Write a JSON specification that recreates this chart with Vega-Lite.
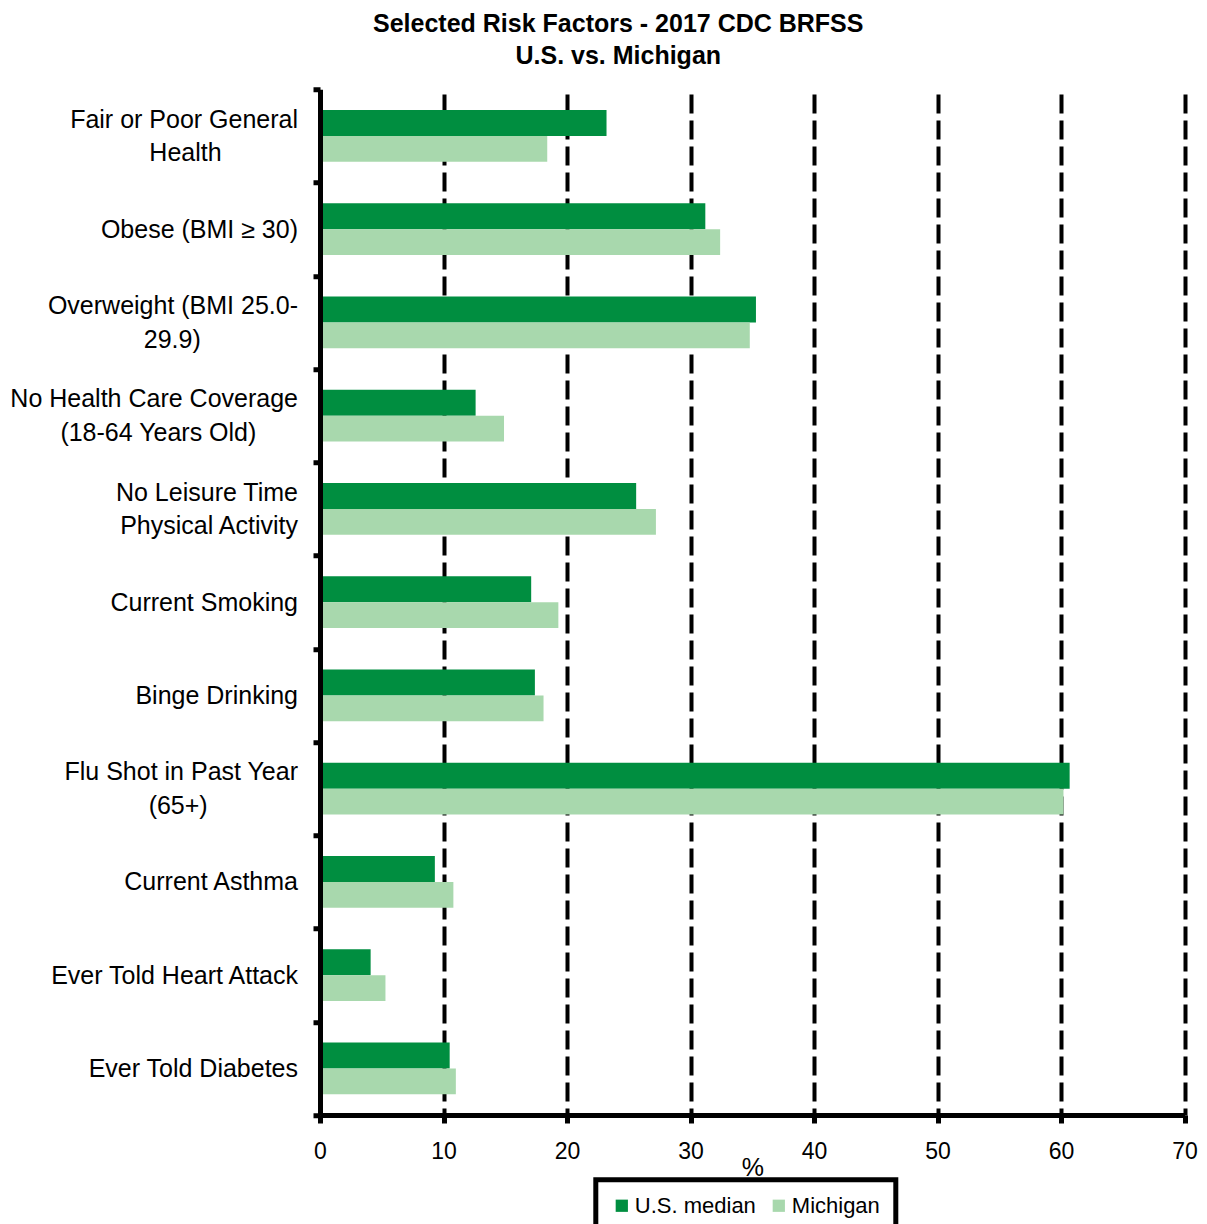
{
  "$schema": "https://vega.github.io/schema/vega-lite/v6.json",
  "width": 864.5,
  "height": 1025.75,
  "autosize": {"type": "none"},
  "padding": {"left": 320, "top": 89.25, "right": 22.5, "bottom": 109},
  "background": "white",
  "title": {
    "text": ["Selected Risk Factors - 2017 CDC BRFSS", "U.S. vs. Michigan"],
    "font": "Liberation Sans",
    "fontSize": 25,
    "fontWeight": "bold",
    "color": "black",
    "lineHeight": 32.6,
    "anchor": "middle",
    "frame": "group",
    "dx": -134,
    "offset": 8
  },
  "data": {
    "values": [
      {"factor": "Fair or Poor General\nHealth\u00a0\u00a0\u00a0\u00a0\u00a0\u00a0\u00a0\u00a0\u00a0\u00a0\u00a0\u200c", "series": "U.S. median", "percent": 23.2},
      {"factor": "Fair or Poor General\nHealth\u00a0\u00a0\u00a0\u00a0\u00a0\u00a0\u00a0\u00a0\u00a0\u00a0\u00a0\u200c", "series": "Michigan", "percent": 18.4},
      {"factor": "Obese (BMI \u2265 30)", "series": "U.S. median", "percent": 31.2},
      {"factor": "Obese (BMI \u2265 30)", "series": "Michigan", "percent": 32.4},
      {"factor": "Overweight (BMI 25.0-\n29.9)\u00a0\u00a0\u00a0\u00a0\u00a0\u00a0\u00a0\u00a0\u00a0\u00a0\u00a0\u00a0\u00a0\u00a0\u200c", "series": "U.S. median", "percent": 35.3},
      {"factor": "Overweight (BMI 25.0-\n29.9)\u00a0\u00a0\u00a0\u00a0\u00a0\u00a0\u00a0\u00a0\u00a0\u00a0\u00a0\u00a0\u00a0\u00a0\u200c", "series": "Michigan", "percent": 34.8},
      {"factor": "No Health Care Coverage\n(18-64 Years Old)\u00a0\u00a0\u00a0\u00a0\u00a0\u00a0\u200c", "series": "U.S. median", "percent": 12.6},
      {"factor": "No Health Care Coverage\n(18-64 Years Old)\u00a0\u00a0\u00a0\u00a0\u00a0\u00a0\u200c", "series": "Michigan", "percent": 14.9},
      {"factor": "No Leisure Time\nPhysical Activity", "series": "U.S. median", "percent": 25.6},
      {"factor": "No Leisure Time\nPhysical Activity", "series": "Michigan", "percent": 27.2},
      {"factor": "Current Smoking", "series": "U.S. median", "percent": 17.1},
      {"factor": "Current Smoking", "series": "Michigan", "percent": 19.3},
      {"factor": "Binge Drinking", "series": "U.S. median", "percent": 17.4},
      {"factor": "Binge Drinking", "series": "Michigan", "percent": 18.1},
      {"factor": "Flu Shot in Past Year\n(65+)\u00a0\u00a0\u00a0\u00a0\u00a0\u00a0\u00a0\u00a0\u00a0\u00a0\u00a0\u00a0\u00a0\u200c", "series": "U.S. median", "percent": 60.7},
      {"factor": "Flu Shot in Past Year\n(65+)\u00a0\u00a0\u00a0\u00a0\u00a0\u00a0\u00a0\u00a0\u00a0\u00a0\u00a0\u00a0\u00a0\u200c", "series": "Michigan", "percent": 60.2},
      {"factor": "Current Asthma", "series": "U.S. median", "percent": 9.3},
      {"factor": "Current Asthma", "series": "Michigan", "percent": 10.8},
      {"factor": "Ever Told Heart Attack", "series": "U.S. median", "percent": 4.1},
      {"factor": "Ever Told Heart Attack", "series": "Michigan", "percent": 5.3},
      {"factor": "Ever Told Diabetes", "series": "U.S. median", "percent": 10.5},
      {"factor": "Ever Told Diabetes", "series": "Michigan", "percent": 11.0}
    ]
  },
  "mark": {"type": "bar"},
  "encoding": {
    "y": {
      "field": "factor",
      "type": "nominal",
      "sort": null,
      "scale": {"paddingInner": 0, "paddingOuter": 0},
      "axis": {
        "title": null,
        "zindex": 1,
        "grid": false,
        "tickBand": "extent",
        "domainColor": "black",
        "domainWidth": 5,
        "tickColor": "black",
        "tickWidth": 5,
        "tickSize": 7,
        "labelFont": "Liberation Sans",
        "labelFontSize": 25,
        "labelColor": "black",
        "labelAlign": "right",
        "labelBaseline": "middle",
        "labelPadding": 15.5,
        "labelLimit": 0,
        "labelLineHeight": 16.65,
        "labelOffset": -16.65,
        "labelExpr": "length(split(datum.label, '\\n')) > 1 ? [split(datum.label, '\\n')[0], '\u200b', split(datum.label, '\\n')[1]] : ['\u200b', datum.label]"
      }
    },
    "yOffset": {
      "field": "series",
      "type": "nominal",
      "sort": ["U.S. median", "Michigan"],
      "scale": {"paddingInner": 0, "paddingOuter": 0.807}
    },
    "x": {
      "field": "percent",
      "type": "quantitative",
      "scale": {"domain": [0, 70], "nice": false},
      "axis": {
        "title": "%",
        "values": [0, 10, 20, 30, 40, 50, 60, 70],
        "domainColor": "black",
        "domainWidth": 5,
        "tickColor": "black",
        "tickWidth": 5,
        "tickSize": 8,
        "grid": true,
        "gridColor": "black",
        "gridWidth": 4,
        "gridDash": [19, 7],
        "gridDashOffset": 12,
        "gridOpacity": 1,
        "labelFont": "Liberation Sans",
        "labelFontSize": 23,
        "labelColor": "black",
        "labelPadding": 17,
        "labelFlush": false,
        "titleFont": "Liberation Sans",
        "titleFontSize": 25,
        "titleFontWeight": "normal",
        "titleColor": "black",
        "titlePadding": -8
      }
    },
    "color": {
      "field": "series",
      "type": "nominal",
      "sort": ["U.S. median", "Michigan"],
      "scale": {"domain": ["U.S. median", "Michigan"], "range": ["#008E40", "#A8D8AD"]},
      "legend": {
        "title": null,
        "orient": "none",
        "legendX": 275.8,
        "legendY": 1090.5,
        "direction": "horizontal",
        "symbolType": "square",
        "symbolSize": 150,
        "symbolStrokeWidth": 0,
        "labelFont": "Liberation Sans",
        "labelFontSize": 22,
        "labelColor": "black",
        "labelOffset": 2,
        "columnPadding": 11,
        "padding": 15,
        "strokeColor": "black",
        "encode": {
          "legend": {"update": {"strokeWidth": {"value": 5}}}
        }
      }
    }
  },
  "config": {
    "view": {"stroke": null},
    "font": "Liberation Sans"
  }
}
